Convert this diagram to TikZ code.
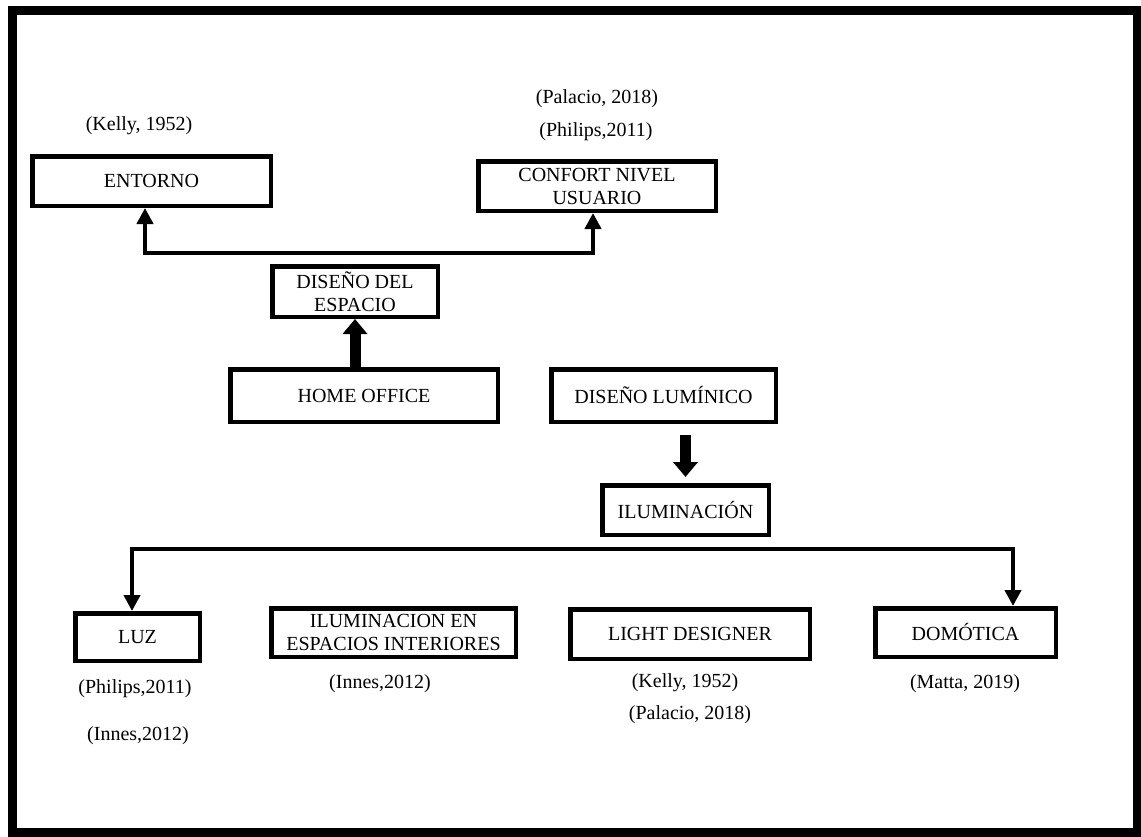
\documentclass[tikz,border=0pt]{standalone}
\usepackage{fontspec}
\setmainfont{Liberation Serif}
\usetikzlibrary{arrows.meta,calc}
\begin{document}
\begin{tikzpicture}[x=1pt,y=-1pt,
  box/.style={draw=black,line width=4.5pt,fill=white,align=center,inner sep=0pt,
    font=\fontsize{20}{23}\selectfont},
  cite/.style={inner sep=0pt,font=\fontsize{20}{23}\selectfont},
  busline/.style={line width=4pt,{Triangle[width=16pt,length=16pt]}-{Triangle[width=16pt,length=16pt]}},
  thickarrow/.style={line width=11pt,-{Triangle[width=24pt,length=15pt]}}
]
\useasboundingbox (0,0) rectangle (1141,836);
\fill[white] (0,0) rectangle (1141,836);
\draw[line width=9pt] (12.5,10) rectangle (1137,832);

% boxes
\node[box,minimum width=238.5pt,minimum height=49.5pt] (entorno) at (151.5,181) {ENTORNO};
\node[box,minimum width=237.5pt,minimum height=49.5pt] (confort) at (597,186) {CONFORT NIVEL\\USUARIO};
\node[box,minimum width=165.5pt,minimum height=50.5pt] (disenoesp) at (355,291.5) {DISEÑO DEL\\ESPACIO};
\node[box,minimum width=267.5pt,minimum height=52.5pt] (home) at (364,395.5) {HOME OFFICE};
\node[box,minimum width=224.5pt,minimum height=52.5pt] (dl) at (663.5,395.5) {DISEÑO LUMÍNICO};
\node[box,minimum width=166.5pt,minimum height=49.5pt] (ilum) at (685.5,510) {ILUMINACIÓN};
\node[box,minimum width=124.5pt,minimum height=47.5pt] (luz) at (137.5,637) {LUZ};
\node[box,minimum width=244.5pt,minimum height=48.5pt] (iee) at (393.5,632.5) {ILUMINACION EN\\ESPACIOS INTERIORES};
\node[box,minimum width=239.5pt,minimum height=49.5pt] (ld) at (690,634) {LIGHT DESIGNER};
\node[box,minimum width=180.5pt,minimum height=48.5pt] (dom) at (965.5,632.5) {DOMÓTICA};

% citations
\node[cite] (c1) at (139,126) {(Kelly, 1952)};
\node[cite] (c2) at (597,99) {(Palacio, 2018)};
\node[cite] (c3) at (596,132) {(Philips,2011)};
\node[cite] (c4) at (135,689) {(Philips,2011)};
\node[cite] (c5) at (138,736) {(Innes,2012)};
\node[cite] (c6) at (380,684) {(Innes,2012)};
\node[cite] (c7) at (685,683) {(Kelly, 1952)};
\node[cite] (c8) at (690,715) {(Palacio, 2018)};
\node[cite] (c9) at (965,684) {(Matta, 2019)};

% top bus
\coordinate (tl) at (145,253);
\coordinate (tr) at (593,253);
\draw[busline] (entorno.south -| tl) -- (tl) -- (tr) -- (confort.south -| tr);

% bottom bus
\coordinate (bl) at (132,549);
\coordinate (br) at (1013,549);
\draw[busline] (luz.north -| bl) -- (bl) -- (br) -- (dom.north -| br);

% thick arrows
\draw[thickarrow] (disenoesp.south |- home.north) -- (disenoesp.south);
\draw[thickarrow,shorten <=11pt,shorten >=6pt] (ilum.north |- dl.south) -- (ilum.north);
\end{tikzpicture}
\end{document}
